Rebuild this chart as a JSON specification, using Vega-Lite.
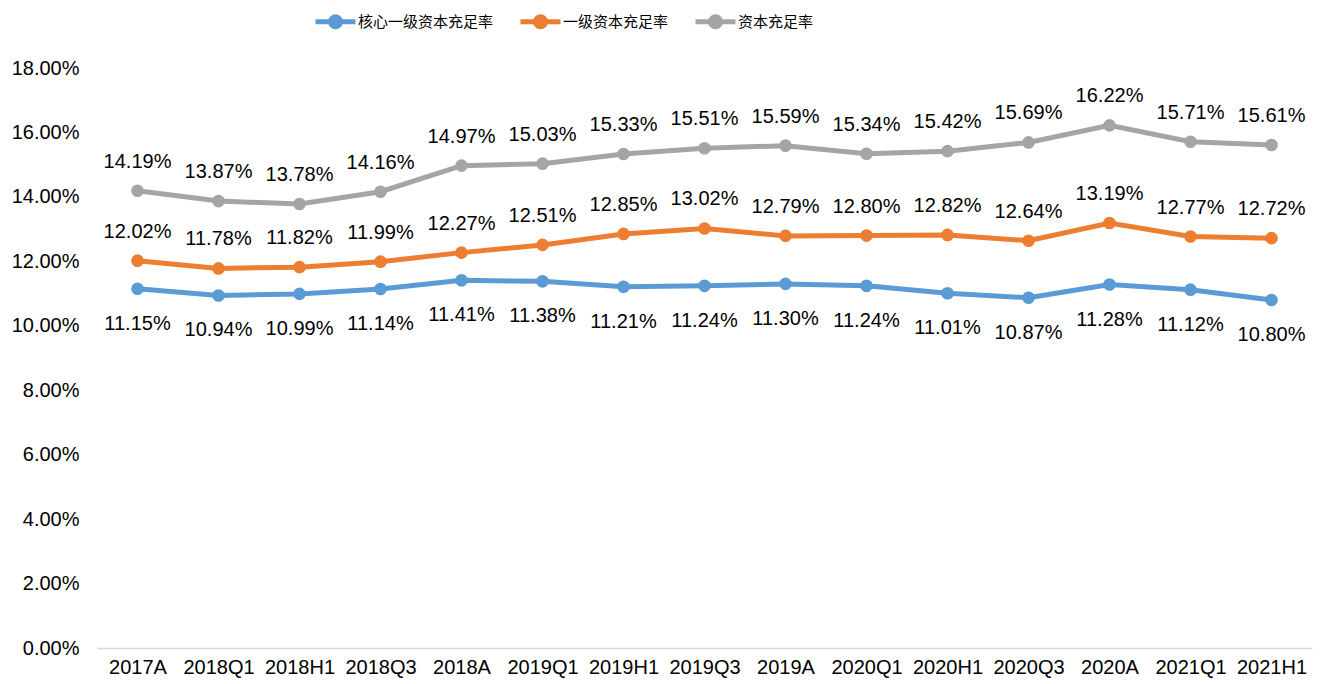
{
  "$schema": "https://vega.github.io/schema/vega-lite/v6.json",
  "width": 1215,
  "height": 580,
  "autosize": {"type": "none"},
  "padding": {"left": 97, "top": 68, "right": 10, "bottom": 36},
  "background": "white",
  "config": {
    "view": {"stroke": null},
    "font": "Liberation Sans",
    "axis": {"grid": false, "ticks": false, "labelFont": "Liberation Sans", "labelFontSize": 20, "labelColor": "#000000", "title": null}
  },
  "data": {
    "values": [
      {"period": "2017A", "series": "核心一级资本充足率", "value": 0.1115},
      {"period": "2018Q1", "series": "核心一级资本充足率", "value": 0.1094},
      {"period": "2018H1", "series": "核心一级资本充足率", "value": 0.1099},
      {"period": "2018Q3", "series": "核心一级资本充足率", "value": 0.1114},
      {"period": "2018A", "series": "核心一级资本充足率", "value": 0.1141},
      {"period": "2019Q1", "series": "核心一级资本充足率", "value": 0.1138},
      {"period": "2019H1", "series": "核心一级资本充足率", "value": 0.1121},
      {"period": "2019Q3", "series": "核心一级资本充足率", "value": 0.1124},
      {"period": "2019A", "series": "核心一级资本充足率", "value": 0.1130},
      {"period": "2020Q1", "series": "核心一级资本充足率", "value": 0.1124},
      {"period": "2020H1", "series": "核心一级资本充足率", "value": 0.1101},
      {"period": "2020Q3", "series": "核心一级资本充足率", "value": 0.1087},
      {"period": "2020A", "series": "核心一级资本充足率", "value": 0.1128},
      {"period": "2021Q1", "series": "核心一级资本充足率", "value": 0.1112},
      {"period": "2021H1", "series": "核心一级资本充足率", "value": 0.1080},
      {"period": "2017A", "series": "一级资本充足率", "value": 0.1202},
      {"period": "2018Q1", "series": "一级资本充足率", "value": 0.1178},
      {"period": "2018H1", "series": "一级资本充足率", "value": 0.1182},
      {"period": "2018Q3", "series": "一级资本充足率", "value": 0.1199},
      {"period": "2018A", "series": "一级资本充足率", "value": 0.1227},
      {"period": "2019Q1", "series": "一级资本充足率", "value": 0.1251},
      {"period": "2019H1", "series": "一级资本充足率", "value": 0.1285},
      {"period": "2019Q3", "series": "一级资本充足率", "value": 0.1302},
      {"period": "2019A", "series": "一级资本充足率", "value": 0.1279},
      {"period": "2020Q1", "series": "一级资本充足率", "value": 0.1280},
      {"period": "2020H1", "series": "一级资本充足率", "value": 0.1282},
      {"period": "2020Q3", "series": "一级资本充足率", "value": 0.1264},
      {"period": "2020A", "series": "一级资本充足率", "value": 0.1319},
      {"period": "2021Q1", "series": "一级资本充足率", "value": 0.1277},
      {"period": "2021H1", "series": "一级资本充足率", "value": 0.1272},
      {"period": "2017A", "series": "资本充足率", "value": 0.1419},
      {"period": "2018Q1", "series": "资本充足率", "value": 0.1387},
      {"period": "2018H1", "series": "资本充足率", "value": 0.1378},
      {"period": "2018Q3", "series": "资本充足率", "value": 0.1416},
      {"period": "2018A", "series": "资本充足率", "value": 0.1497},
      {"period": "2019Q1", "series": "资本充足率", "value": 0.1503},
      {"period": "2019H1", "series": "资本充足率", "value": 0.1533},
      {"period": "2019Q3", "series": "资本充足率", "value": 0.1551},
      {"period": "2019A", "series": "资本充足率", "value": 0.1559},
      {"period": "2020Q1", "series": "资本充足率", "value": 0.1534},
      {"period": "2020H1", "series": "资本充足率", "value": 0.1542},
      {"period": "2020Q3", "series": "资本充足率", "value": 0.1569},
      {"period": "2020A", "series": "资本充足率", "value": 0.1622},
      {"period": "2021Q1", "series": "资本充足率", "value": 0.1571},
      {"period": "2021H1", "series": "资本充足率", "value": 0.1561}
    ]
  },
  "encoding": {
    "x": {
      "field": "period", "type": "ordinal", "sort": null,
      "scale": {"paddingInner": 0, "paddingOuter": 0.5},
      "axis": {"labelAngle": 0, "domainColor": "#d9d9d9", "domainWidth": 1.5, "labelPadding": 9}
    },
    "y": {
      "field": "value", "type": "quantitative",
      "scale": {"domain": [0, 0.18], "nice": false},
      "axis": {"format": ".2%", "values": [0, 0.02, 0.04, 0.06, 0.08, 0.1, 0.12, 0.14, 0.16, 0.18], "domain": false, "labelPadding": 18}
    },
    "color": {
      "field": "series", "type": "nominal",
      "scale": {"domain": ["核心一级资本充足率", "一级资本充足率", "资本充足率"], "range": ["#5B9BD5", "#ED7D31", "#A5A5A5"]},
      "legend": {
        "title": null, "orient": "none", "direction": "horizontal",
        "legendX": 216, "legendY": -69, "padding": 0,
        "symbolType": "M-1,0L1,0M-0.25,0A0.25,0.25 0 1,0 0.25,0A0.25,0.25 0 1,0 -0.25,0",
        "symbolSize": 1600, "symbolStrokeWidth": 5,
        "labelFont": "Noto Sans CJK SC", "labelFontSize": 15, "labelColor": "#000000",
        "labelOffset": 0, "columnPadding": 16,
        "encode": {"symbols": {"update": {"size": {"value": 1600}, "strokeWidth": {"value": 5}}}}
      }
    }
  },
  "layer": [
    {"mark": {"type": "line", "strokeWidth": 5}},
    {"mark": {"type": "point", "filled": true, "size": 160, "opacity": 1}},
    {
      "transform": [{"filter": "datum.series !== '核心一级资本充足率'"}],
      "mark": {"type": "text", "dy": -29, "fontSize": 20, "color": "#000000", "font": "Liberation Sans"},
      "encoding": {"text": {"field": "value", "format": ".2%"}, "color": {"value": "#000000"}}
    },
    {
      "transform": [{"filter": "datum.series === '核心一级资本充足率'"}],
      "mark": {"type": "text", "dy": 35, "fontSize": 20, "color": "#000000", "font": "Liberation Sans"},
      "encoding": {"text": {"field": "value", "format": ".2%"}, "color": {"value": "#000000"}}
    }
  ]
}
